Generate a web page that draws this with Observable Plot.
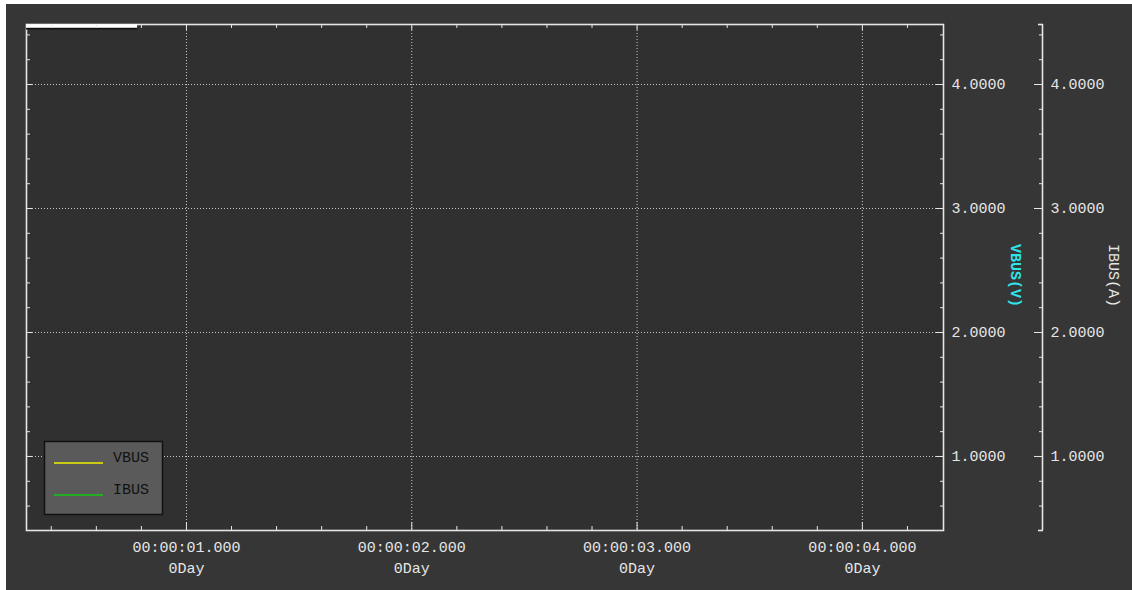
<!DOCTYPE html>
<html><head><meta charset="utf-8">
<script src="https://cdn.jsdelivr.net/npm/d3@7"></script>
<script src="https://cdn.jsdelivr.net/npm/@observablehq/plot@0.6"></script>
<style>
html,body{margin:0;padding:0;background:#ffffff;width:1132px;height:590px;overflow:hidden;}
#chart{position:absolute;left:6px;top:4px;width:1126px;height:586px;}
#chart svg{display:block;}
</style></head><body><div id="chart"></div>
<script>
// ---- data ----
const series = ["VBUS", "IBUS"];
const seriesColors = ["#f2f200", "#14c814"];
const vbusValues = [];   // no samples recorded in the view
const ibusValues = [];
const xDomain = [0.29, 4.36];          // seconds
const yDomain = [0.403, 4.484];
const xMajor = [1, 2, 3, 4];
const xMinor = [0.4, 0.6, 0.8, 1.2, 1.4, 1.6, 1.8, 2.2, 2.4, 2.6, 2.8, 3.2, 3.4, 3.6, 3.8, 4.2];
const xTickLabels = ["00:00:01.000", "00:00:02.000", "00:00:03.000", "00:00:04.000"];
const xDayLabels = ["0Day", "0Day", "0Day", "0Day"];
const yMajor = [1, 2, 3, 4];
const yMinor = [0.6, 0.8, 1.2, 1.4, 1.6, 1.8, 2.2, 2.4, 2.6, 2.8, 3.2, 3.4, 3.6, 3.8, 4.2, 4.4];
const yTickLabels = ["1.0000", "2.0000", "3.0000", "4.0000"];
const yEnds = [yDomain[0], yDomain[1]];
const axisTitles = ["VBUS(V)", "IBUS(A)"];
const topBar = [0.29, 0.783];

const FG = "#e6e6e6";
const GRID = "#c8c8c8";
const font = "'Liberation Mono', 'DejaVu Sans Mono', monospace";
const blank = () => "";

const vbusData = vbusValues.map(v => ({t: v[0], v: v[1]}));
const ibusData = ibusValues.map(v => ({t: v[0], v: v[1]}));

const chart = Plot.plot({
  width: 1126, height: 586,
  marginLeft: 20, marginTop: 20, marginRight: 189, marginBottom: 60,
  style: {background: "#363636", color: FG, fontFamily: font, fontSize: "15px", overflow: "visible"},
  x: {domain: xDomain},
  y: {domain: yDomain},
  marks: [
    Plot.frame({fill: "#303030", stroke: null}),
    Plot.gridX(xMajor, {stroke: GRID, strokeOpacity: 1, strokeDasharray: "1,2"}),
    Plot.gridY(yMajor, {stroke: GRID, strokeOpacity: 1, strokeDasharray: "1,2"}),
    Plot.line(vbusData, {x: "t", y: "v", stroke: seriesColors[0]}),
    Plot.line(ibusData, {x: "t", y: "v", stroke: seriesColors[1]}),
    Plot.frame({stroke: FG, strokeWidth: 1.6}),
    Plot.ruleY([yDomain[1]], {x1: topBar[0], x2: topBar[1], stroke: "#111", strokeWidth: 2, dy: 4}),
    Plot.ruleY([yDomain[1]], {x1: topBar[0], x2: topBar[1], stroke: "#ffffff", strokeWidth: 3.5, dy: 1.5}),
    // left ticks (inward)
    Plot.axisY(yMinor, {anchor: "left", tickSize: 4, dx: 4, tickFormat: blank, label: null, stroke: FG}),
    Plot.axisY(yMajor, {anchor: "left", tickSize: 6, dx: 6, tickFormat: blank, label: null, stroke: FG}),
    // top ticks (inward)
    Plot.axisX(xMinor, {anchor: "top", tickSize: 3, dy: 3, tickFormat: blank, label: null, stroke: FG}),
    Plot.axisX(xMajor, {anchor: "top", tickSize: 5, dy: 5, tickFormat: blank, label: null, stroke: FG}),
    // bottom ticks (inward) + labels
    Plot.axisX(xMinor, {anchor: "bottom", tickSize: 4, dy: -4, tickFormat: blank, label: null, stroke: FG}),
    Plot.axisX(xMajor, {anchor: "bottom", tickSize: 8, dy: -8, tickFormat: blank, label: null, stroke: FG}),
    Plot.axisX(xMajor, {anchor: "bottom", tickSize: 0, tickPadding: 7, label: null, fill: FG,
      fontSize: 15, lineHeight: 1.4,
      tickFormat: d => xTickLabels[xMajor.indexOf(d)] + "\n" + xDayLabels[xMajor.indexOf(d)]}),
    // right (VBUS) axis: inward ticks + labels
    Plot.axisY(yMinor, {anchor: "right", tickSize: 4, dx: -4, tickFormat: blank, label: null, stroke: FG}),
    Plot.axisY(yMajor, {anchor: "right", tickSize: 8, dx: -8, tickFormat: blank, label: null, stroke: FG}),
    Plot.axisY(yMajor, {anchor: "right", tickSize: 0, tickPadding: 8, label: null, fill: FG, fontSize: 15,
      tickFormat: d => yTickLabels[yMajor.indexOf(d)]}),
    // second (IBUS) axis
    Plot.ruleX([xDomain[1]], {y1: yDomain[0], y2: yDomain[1], dx: 99, stroke: FG, strokeWidth: 1.6}),
    Plot.axisY(yEnds, {anchor: "right", tickSize: 5, dx: 94, tickFormat: blank, label: null, stroke: FG, strokeWidth: 1.6}),
    Plot.axisY(yMinor, {anchor: "right", tickSize: 4, dx: 95, tickFormat: blank, label: null, stroke: FG}),
    Plot.axisY(yMajor, {anchor: "right", tickSize: 9, dx: 90, tickFormat: blank, label: null, stroke: FG}),
    Plot.axisY(yMajor, {anchor: "right", tickSize: 0, tickPadding: 8, dx: 99, label: null, fill: FG, fontSize: 15,
      tickFormat: d => yTickLabels[yMajor.indexOf(d)]}),
    // axis titles
    Plot.text([axisTitles[0]], {frameAnchor: "right", textAnchor: "middle", dx: 72, dy: -2, rotate: 90, text: d => d,
      fill: "#30e4ec", fontWeight: "bold", fontSize: 15, fontFamily: font}),
    Plot.text([axisTitles[1]], {frameAnchor: "right", textAnchor: "middle", dx: 170, dy: -2, rotate: 90, text: d => d,
      fill: FG, fontSize: 15, fontFamily: font})
  ]
});
document.getElementById("chart").appendChild(chart);

// legend box (bottom-left inside the plot frame)
const svg = d3.select(chart);
const fx = 20, fb = 586 - 60;
const lg = svg.append("g").attr("font-family", font).attr("font-size", 15).attr("text-anchor", "start");
lg.append("rect").attr("x", fx + 18.5).attr("y", fb - 88.5).attr("width", 118).attr("height", 73)
  .attr("fill", "#5a5a5a").attr("stroke", "#111").attr("stroke-width", 1.5);
series.forEach((s, i) => {
  const y = fb - 67 + i * 32;
  lg.append("line").attr("x1", fx + 28).attr("x2", fx + 77).attr("y1", y).attr("y2", y)
    .attr("stroke", seriesColors[i]).attr("stroke-width", 1.5);
  lg.append("text").attr("x", fx + 87).attr("y", y - 6).attr("dy", "0.35em")
    .attr("fill", "#111").text(s);
});
</script>
</body></html>
